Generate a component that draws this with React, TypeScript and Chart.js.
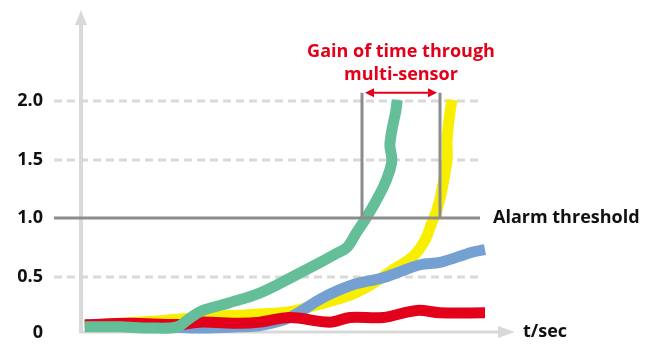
import React, { useEffect, useRef } from "react";
import { Chart, registerables } from "chart.js";

Chart.register(...registerables);

// time axis (arbitrary seconds 0..100) and sensor signals
const greenT = [0.7, 9.4, 16.9, 23.6, 26.8, 30.0, 36.0, 44.2, 52.4, 59.1, 63.3, 65.8, 68.2, 70.7, 74.7, 76.4, 76.9, 76.4, 76.9, 77.9, 78.2];
const greenV = [0.07, 0.07, 0.06, 0.07, 0.145, 0.21, 0.27, 0.36, 0.5, 0.62, 0.7, 0.75, 0.88, 1.01, 1.26, 1.41, 1.5, 1.62, 1.75, 1.92, 2.01];

const yellowT = [0.7, 18.6, 29.3, 44.2, 51.6, 59.8, 66.5, 72.2, 77.2, 82.1, 85.1, 86.8, 88.1, 89.3, 90.6, 90.6, 91.3, 91.8];
const yellowV = [0.08, 0.12, 0.15, 0.18, 0.2, 0.27, 0.34, 0.44, 0.56, 0.67, 0.81, 0.96, 1.07, 1.24, 1.5, 1.67, 1.9, 2.01];

const blueT = [0.7, 11.9, 29.3, 39.2, 44.2, 51.6, 59.8, 67.2, 74.7, 83.9, 88.8, 97.0, 100];
const blueV = [0.09, 0.085, 0.06, 0.07, 0.08, 0.15, 0.32, 0.43, 0.49, 0.6, 0.62, 0.71, 0.73];

const redT = [0.7, 11.9, 24.3, 29.3, 39.2, 44.2, 51.6, 61.5, 66.5, 74.7, 83.1, 88.8, 100];
const redV = [0.085, 0.1, 0.09, 0.11, 0.1, 0.11, 0.15, 0.11, 0.15, 0.15, 0.21, 0.19, 0.19];

const yTicks = [0, 0.5, 1.0, 1.5, 2.0];
const yTickLabels = ["0", "0.5", "1.0", "1.5", "2.0"];
const threshold = 1.0;
const gainStart = 69.5;
const gainEnd = 88.8;
const gainTop = 2.07;
const annotationLines = ["Gain of time through", "multi-sensor"];
const thresholdLabel = "Alarm threshold";
const xAxisLabel = "t/sec";

const toPts = (t: number[], v: number[]) => t.map((x, i) => ({ x, y: v[i] }));

const FONT = '"Open Sans", "DejaVu Sans", sans-serif';
const RED = "#e2001a";

const decorPlugin = {
  id: "decor",
  beforeDatasetsDraw(chart: any) {
    const { ctx, scales } = chart;
    const xs = scales.x;
    const ys = scales.y;
    const left = xs.getPixelForValue(0);
    const right = xs.getPixelForValue(100);
    ctx.save();
    // dashed grid lines
    ctx.strokeStyle = "#d9d9d9";
    ctx.lineWidth = 3;
    ctx.setLineDash([8, 5]);
    yTicks.forEach((v) => {
      if (v === 0 || v === threshold) return;
      const y = Math.round(ys.getPixelForValue(v));
      ctx.beginPath();
      ctx.moveTo(left - 28, y);
      ctx.lineTo(right - 4, y);
      ctx.stroke();
    });
    ctx.setLineDash([]);
    // axes
    const y0 = ys.getPixelForValue(0) - 3;
    ctx.strokeStyle = "#d9d9d9";
    ctx.fillStyle = "#d9d9d9";
    ctx.lineWidth = 4;
    ctx.beginPath();
    ctx.moveTo(left - 1, y0);
    ctx.lineTo(left - 1, 24);
    ctx.stroke();
    ctx.beginPath();
    ctx.moveTo(left - 7, 25);
    ctx.lineTo(left - 1, 10);
    ctx.lineTo(left + 5, 25);
    ctx.closePath();
    ctx.fill();
    ctx.lineWidth = 3;
    ctx.beginPath();
    ctx.moveTo(left - 3, y0);
    ctx.lineTo(right + 14, y0);
    ctx.stroke();
    ctx.beginPath();
    ctx.moveTo(right + 13, y0 - 6);
    ctx.lineTo(right + 30, y0);
    ctx.lineTo(right + 13, y0 + 6);
    ctx.closePath();
    ctx.fill();
    // tick labels
    ctx.fillStyle = "#111";
    ctx.font = `bold 18px ${FONT}`;
    ctx.textAlign = "right";
    ctx.textBaseline = "middle";
    yTicks.forEach((v, i) => {
      let y = ys.getPixelForValue(v);
      if (v === 0) y -= 2;
      ctx.fillText(yTickLabels[i], left - 39, y);
    });
    ctx.textAlign = "left";
    ctx.fillText(xAxisLabel, right + 38, y0);
    ctx.restore();
  },
  afterDatasetsDraw(chart: any) {
    const { ctx, scales } = chart;
    const xs = scales.x;
    const ys = scales.y;
    const left = xs.getPixelForValue(0);
    const right = xs.getPixelForValue(100);
    ctx.save();
    const yt = Math.round(ys.getPixelForValue(threshold));
    ctx.strokeStyle = "#8c8c8c";
    ctx.lineWidth = 3;
    ctx.beginPath();
    ctx.moveTo(left - 28, yt);
    ctx.lineTo(right - 5, yt);
    ctx.stroke();
    // gain verticals
    const xa = Math.round(xs.getPixelForValue(gainStart));
    const xb = Math.round(xs.getPixelForValue(gainEnd));
    const ytop = ys.getPixelForValue(gainTop);
    ctx.beginPath();
    ctx.moveTo(xa, yt);
    ctx.lineTo(xa, ytop);
    ctx.moveTo(xb, yt);
    ctx.lineTo(xb, ytop);
    ctx.stroke();
    // red double arrow
    ctx.strokeStyle = RED;
    ctx.fillStyle = RED;
    ctx.lineWidth = 2;
    const ya = ytop;
    ctx.beginPath();
    ctx.moveTo(xa + 8, ya);
    ctx.lineTo(xb - 8, ya);
    ctx.stroke();
    ctx.beginPath();
    ctx.moveTo(xa + 3, ya);
    ctx.lineTo(xa + 12, ya - 4.5);
    ctx.lineTo(xa + 12, ya + 4.5);
    ctx.closePath();
    ctx.fill();
    ctx.beginPath();
    ctx.moveTo(xb - 3, ya);
    ctx.lineTo(xb - 12, ya - 4.5);
    ctx.lineTo(xb - 12, ya + 4.5);
    ctx.closePath();
    ctx.fill();
    // annotation text
    ctx.font = `bold 18px ${FONT}`;
    ctx.textAlign = "center";
    ctx.textBaseline = "middle";
    const cx = (xa + xb) / 2;
    ctx.fillText(annotationLines[0], cx, ya - 41);
    ctx.fillText(annotationLines[1], cx, ya - 18);
    // threshold label
    ctx.fillStyle = "#111";
    ctx.textAlign = "left";
    ctx.fillText(thresholdLabel, right + 8, yt);
    ctx.restore();
  },
};

export default function App() {
  const ref = useRef<HTMLCanvasElement | null>(null);
  useEffect(() => {
    document.body.style.margin = "0";
    const canvas = ref.current!;
    const common = {
      borderWidth: 11,
      pointRadius: 0,
      tension: 0.35,
      fill: false,
      clip: false as any,
      borderJoinStyle: "round" as const,
      borderCapStyle: "butt" as const,
    };
    const chart = new Chart(canvas, {
      type: "line",
      data: {
        datasets: [
          { ...common, label: "green", data: toPts(greenT, greenV), borderColor: "#64bf98" },
          { ...common, label: "red", data: toPts(redT, redV), borderColor: RED },
          { ...common, label: "blue", data: toPts(blueT, blueV), borderColor: "#74a1d1" },
          { ...common, label: "yellow", data: toPts(yellowT, yellowV), borderColor: "#f7ee00" },
        ],
      },
      options: {
        animation: false,
        responsive: false,
        maintainAspectRatio: false,
        layout: { padding: { left: 82, right: 167, top: 101, bottom: 10 } },
        plugins: { legend: { display: false }, tooltip: { enabled: false } },
        scales: {
          x: { type: "linear", min: 0, max: 100, display: false },
          y: { type: "linear", min: 0, max: 2, display: false },
        },
      },
      plugins: [decorPlugin],
    });
    return () => chart.destroy();
  }, []);
  return (
    <div style={{ width: 652, height: 345 }}>
      <canvas ref={ref} width={652} height={345} style={{ display: "block" }} />
    </div>
  );
}
